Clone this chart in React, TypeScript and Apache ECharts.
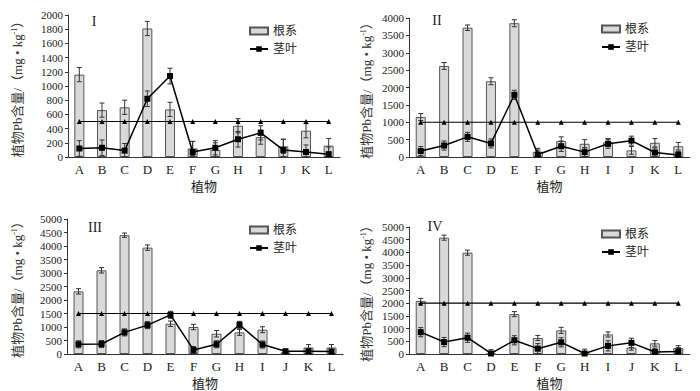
import React, { useEffect, useRef } from "react";
import * as echarts from "echarts";

const categories = ["A", "B", "C", "D", "E", "F", "G", "H", "I", "J", "K", "L"];
const panelLabels = ["I", "II", "III", "IV"];
const thresholds = [500, 1000, 1500, 2000];
const yMax = [2000, 4000, 5000, 5000];
const yInterval = [200, 500, 500, 500];

// Panel I
const rootI = [1160, 660, 700, 1810, 670, 120, 100, 440, 280, 150, 370, 160];
const rootErrI = [100, 100, 100, 100, 100, 100, 100, 100, 100, 100, 100, 100];
const shootI = [120, 130, 90, 820, 1140, 70, 130, 250, 340, 100, 70, 40];
const shootErrI = [110, 110, 100, 110, 110, 150, 100, 110, 100, 150, 100, 100];

// Panel II
const rootII = [1150, 2620, 3720, 2180, 3850, 150, 460, 380, 420, 190, 410, 310];
const rootErrII = [100, 100, 80, 100, 100, 100, 120, 120, 110, 110, 120, 110];
const shootII = [170, 330, 580, 390, 1790, 70, 310, 140, 380, 470, 130, 60];
const shootErrII = [130, 130, 130, 130, 130, 130, 150, 130, 130, 130, 130, 100];

// Panel III
const rootIII = [2320, 3100, 4400, 3940, 1120, 1000, 750, 800, 900, 60, 240, 240];
const rootErrIII = [100, 100, 80, 100, 100, 100, 120, 110, 110, 60, 110, 110];
const shootIII = [360, 370, 800, 1070, 1450, 150, 360, 1080, 350, 100, 100, 90];
const shootErrIII = [130, 130, 130, 130, 130, 130, 130, 130, 130, 80, 80, 80];

// Panel IV
const rootIV = [2090, 4580, 3990, 0, 1570, 630, 930, 0, 770, 250, 420, 230];
const rootErrIV = [100, 100, 100, 0, 100, 100, 120, 0, 100, 100, 110, 100];
const shootIV = [860, 470, 640, 20, 540, 210, 460, 20, 320, 440, 80, 100];
const shootErrIV = [180, 180, 180, 150, 180, 200, 180, 170, 200, 180, 150, 150];

const roots = [rootI, rootII, rootIII, rootIV];
const rootErrs = [rootErrI, rootErrII, rootErrIII, rootErrIV];
const shoots = [shootI, shootII, shootIII, shootIV];
const shootErrs = [shootErrI, shootErrII, shootErrIII, shootErrIV];

const grids = [
  { left: 68, top: 15, width: 272, height: 142 },
  { left: 409, top: 18, width: 281, height: 139 },
  { left: 67, top: 219, width: 276, height: 138 },
  { left: 409, top: 227, width: 281, height: 130 },
];
const yNameGaps = [43, 35, 42, 35];
const legendPos = [
  { left: 244, top: 20 },
  { left: 596, top: 18 },
  { left: 244, top: 219 },
  { left: 596, top: 223 },
];
const labelPos = [
  { x: 94, y: 21 },
  { x: 437, y: 20 },
  { x: 95, y: 227 },
  { x: 435, y: 226 },
];

const FONT = "'Liberation Serif', 'Noto Sans CJK SC', serif";

function errorRender(params: any, api: any) {
  const x = api.value(0);
  const v = api.value(1);
  const e = api.value(2);
  if (!e) return null;
  const top = api.coord([x, v + e]);
  const bot = api.coord([x, Math.max(0, v - e)]);
  const w = 2.5;
  const style = { stroke: "#333", lineWidth: 1 };
  return {
    type: "group",
    children: [
      { type: "line", shape: { x1: top[0], y1: top[1], x2: bot[0], y2: bot[1] }, style },
      { type: "line", shape: { x1: top[0] - w, y1: top[1], x2: top[0] + w, y2: top[1] }, style },
      { type: "line", shape: { x1: bot[0] - w, y1: bot[1], x2: bot[0] + w, y2: bot[1] }, style },
    ],
  };
}

export default function App() {
  const ref = useRef<HTMLDivElement>(null);
  useEffect(() => {
    if (!ref.current) return;
    const chart = echarts.init(ref.current, null, { renderer: "svg" });
    const series: any[] = [];
    for (let p = 0; p < 4; p++) {
      series.push({
        name: "根系",
        type: "bar",
        xAxisIndex: p,
        yAxisIndex: p,
        data: roots[p],
        barWidth: 10,
        itemStyle: { color: "#d9d9d9", borderColor: "#555", borderWidth: 1 },
        z: 2,
      });
      series.push({
        type: "custom",
        xAxisIndex: p,
        yAxisIndex: p,
        renderItem: errorRender,
        encode: { x: 0, y: 1 },
        data: roots[p].map((v, i) => [i, v, rootErrs[p][i]]),
        z: 3,
        silent: true,
      });
      series.push({
        name: "threshold" + p,
        type: "line",
        xAxisIndex: p,
        yAxisIndex: p,
        data: categories.map(() => thresholds[p]),
        symbol: "triangle",
        symbolSize: 5,
        lineStyle: { color: "#000", width: 1.2 },
        itemStyle: { color: "#000" },
        z: 4,
      });
      series.push({
        type: "custom",
        xAxisIndex: p,
        yAxisIndex: p,
        renderItem: errorRender,
        encode: { x: 0, y: 1 },
        data: shoots[p].map((v, i) => [i, v, shootErrs[p][i]]),
        z: 5,
        silent: true,
      });
      series.push({
        name: "茎叶",
        type: "line",
        xAxisIndex: p,
        yAxisIndex: p,
        data: shoots[p],
        symbol: "rect",
        symbolSize: 6,
        lineStyle: { color: "#000", width: 1.5 },
        itemStyle: { color: "#000" },
        z: 6,
      });
    }
    chart.setOption({
      animation: false,
      backgroundColor: "#fff",
      textStyle: { fontFamily: FONT },
      grid: grids,
      xAxis: grids.map((_, p) => ({
        type: "category",
        gridIndex: p,
        data: categories,
        name: "植物",
        nameLocation: "middle",
        nameGap: 23,
        nameTextStyle: { fontSize: 13, color: "#222", fontFamily: FONT },
        axisLine: { lineStyle: { color: "#333", width: 1 } },
        axisTick: { show: false },
        axisLabel: { fontSize: 13, color: "#222", margin: 6, fontFamily: FONT },
      })),
      yAxis: grids.map((_, p) => ({
        type: "value",
        gridIndex: p,
        min: 0,
        max: yMax[p],
        interval: yInterval[p],
        name: "植物Pb含量/（mg • kg{sup|-1}）",
        nameLocation: "middle",
        nameGap: yNameGaps[p],
        nameTextStyle: {
          fontSize: 13,
          color: "#333",
          fontFamily: FONT,
          lineHeight: 15,
          rich: { sup: { fontSize: 8, verticalAlign: "top", color: "#333", fontFamily: FONT, lineHeight: 15 } },
        },
        splitLine: { show: false },
        axisLine: { show: true, lineStyle: { color: "#333", width: 1 } },
        axisTick: { show: true, length: 3, lineStyle: { color: "#333" } },
        axisLabel: {
          fontSize: 11,
          color: "#222",
          margin: 5,
          fontFamily: FONT,
          formatter: (v: number) => String(v),
        },
      })),
      legend: legendPos.map((pos) => ({
        ...pos,
        orient: "vertical",
        data: [{ name: "根系", icon: "rect" }, "茎叶"],
        itemWidth: 18,
        itemHeight: 7,
        itemGap: 6,
        selectedMode: false,
        textStyle: { fontSize: 12, color: "#222", fontFamily: FONT },
      })),
      graphic: labelPos.map((pos, p) => ({
        type: "text",
        x: pos.x,
        y: pos.y,
        style: {
          text: panelLabels[p],
          font: "14px 'Liberation Serif', serif",
          fill: "#222",
          align: "center",
          verticalAlign: "middle",
        },
      })),
      series,
    });
    return () => chart.dispose();
  }, []);
  return (
    <div
      ref={ref}
      style={{ position: "fixed", left: 0, top: 0, width: 700, height: 391 }}
    />
  );
}
